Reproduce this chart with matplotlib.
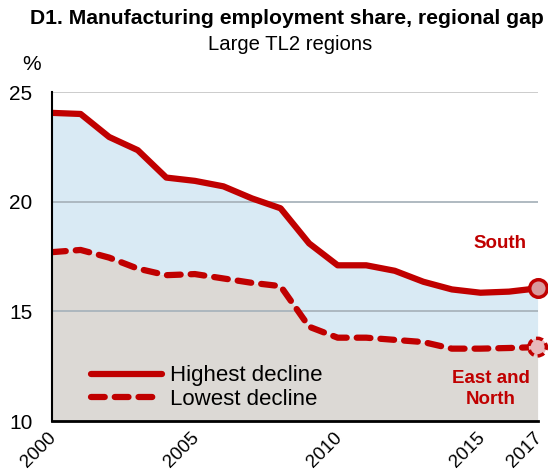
import numpy as np
import matplotlib.pyplot as plt

plt.rcParams['font.family'] = ['Liberation Sans', 'DejaVu Sans']

years = list(range(2000, 2018))
highest = [24.05, 24.0, 22.95, 22.35, 21.1, 20.95, 20.7, 20.15, 19.7, 18.1,
           17.1, 17.1, 16.85, 16.35, 16.0, 15.85, 15.9, 16.05]
lowest = [17.7, 17.8, 17.45, 16.95, 16.65, 16.7, 16.5, 16.3, 16.15, 14.3,
          13.8, 13.8, 13.7, 13.6, 13.3, 13.3, 13.33, 13.37]
xticks = [2000, 2005, 2010, 2015, 2017]
yticks = [10, 15, 20, 25]

red = '#c00000'

fig = plt.figure(figsize=(5.48, 4.72), dpi=100)
ax = fig.add_axes([0.095, 0.108, 0.886, 0.697])

ax.fill_between(years, 10, lowest, color='#dcd9d5', lw=0, zorder=1)
ax.fill_between(years, lowest, highest, color='#d9eaf4', lw=0, zorder=1)
ax.axhline(25, color='#c8c8c8', lw=1.3, zorder=2)
for y in [15, 20]:
    ax.axhline(y, color='#a9b4bc', lw=1.3, zorder=2)

ax.plot(years, highest, color=red, lw=4.5, solid_joinstyle='round',
        solid_capstyle='round', zorder=3, label='Highest decline')
ax.plot(years, lowest, color=red, lw=4.5, ls=(0, (2.2, 1.6)),
        dash_capstyle='round', dash_joinstyle='round', zorder=3,
        label='Lowest decline')

ax.scatter([years[-1]], [highest[-1]], s=160, facecolor='#d9999c',
           edgecolor=red, lw=2.5, zorder=5, clip_on=False)
ax.scatter([years[-1]], [lowest[-1]], s=160, facecolor='#e8b9bc',
           edgecolor=red, lw=2.5, linestyle=(0, (2, 1.2)), zorder=5,
           clip_on=False)

ax.text(2015.7, 18.1, 'South', color=red, fontsize=13.5, fontweight='bold',
        ha='center', va='center')
ax.text(2015.35, 11.45, 'East and\nNorth', color=red, fontsize=13.5,
        fontweight='bold', ha='center', va='center', linespacing=1.3)

ax.set_xlim(2000, 2017)
ax.set_ylim(10, 25)
ax.set_xticks(xticks)
ax.set_xticklabels([])
# slanted year labels, placed by hand so they can sit a bit left of the tick
for x in xticks:
    ax.annotate(str(x), (x, 0), xycoords=('data', 'axes fraction'),
                xytext=(-3, -6), textcoords='offset points', rotation=45,
                ha='right', va='top', rotation_mode='anchor', fontsize=13.5,
                annotation_clip=False)
ax.set_yticks(yticks)
ax.set_yticklabels([str(y) for y in yticks], fontsize=15)
ax.tick_params(axis='y', length=0, pad=14)
ax.tick_params(axis='x', length=0)
for s in ['top', 'right']:
    ax.spines[s].set_visible(False)
ax.spines['left'].set_linewidth(1.5)
ax.spines['bottom'].set_linewidth(2)
ax.spines['left'].set_zorder(4)
ax.spines['bottom'].set_zorder(4)

leg = ax.legend(loc='lower left', bbox_to_anchor=(0.08, 0.035), frameon=False,
                fontsize=16, handlelength=3.2, handletextpad=0.36,
                labelspacing=0.1, borderpad=0, borderaxespad=0)

fig.text(0.524, 0.96, 'D1. Manufacturing employment share, regional gap',
         ha='center', va='center', fontsize=15.2, fontweight='bold')
fig.text(0.529, 0.905, 'Large TL2 regions', ha='center', va='center',
         fontsize=14.6)
fig.text(0.057, 0.864, '%', ha='center', va='center', fontsize=15)

fig.savefig('out.png', dpi=100)
